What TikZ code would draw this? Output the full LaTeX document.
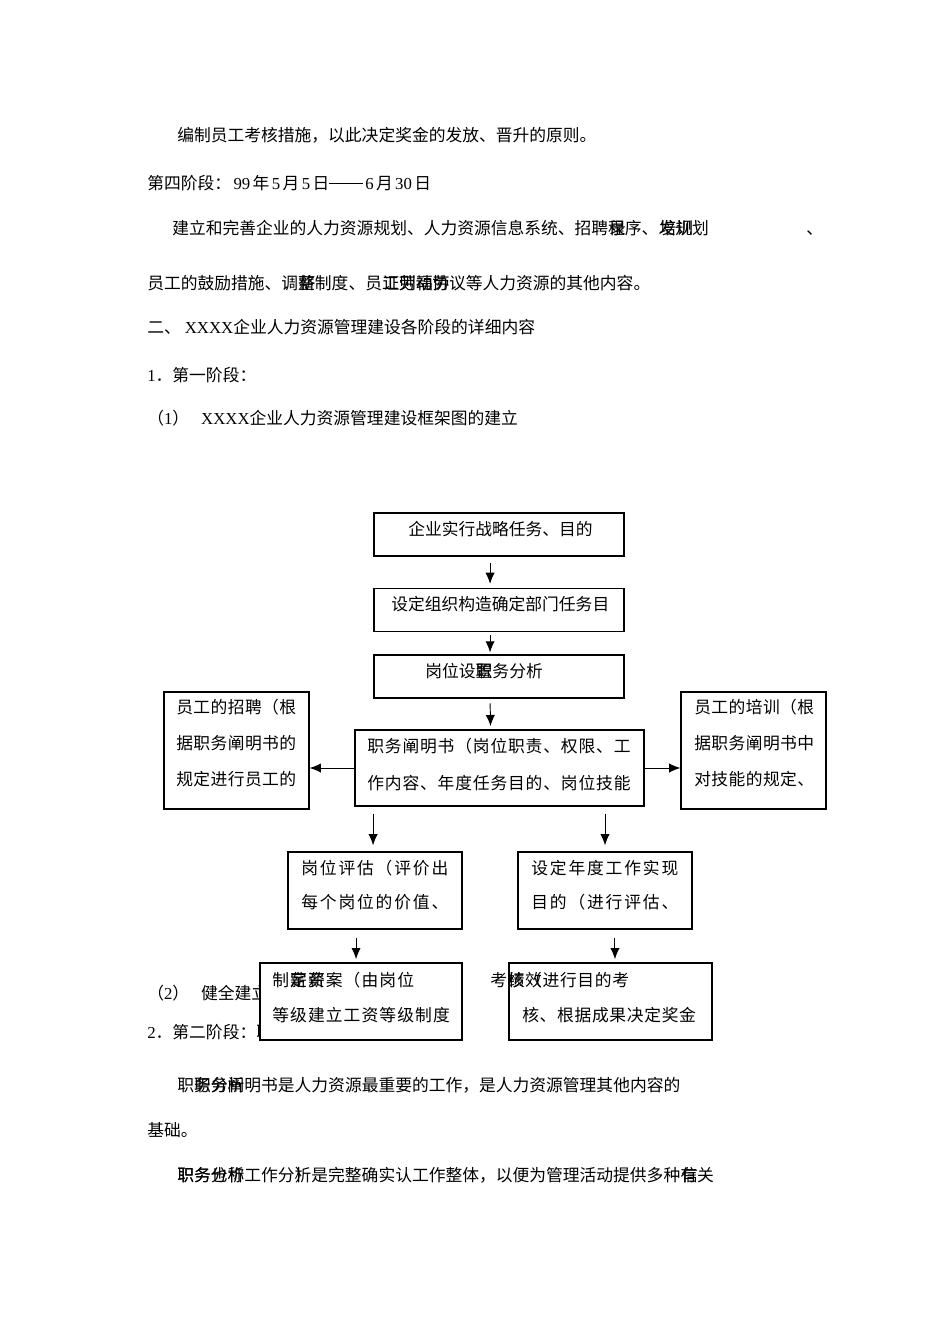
\documentclass[tikz,border=0pt]{standalone}
\usepackage{fontspec}
\setmainfont{Liberation Serif}[Scale=1.05]
\newfontfamily\cjk{Noto Sans CJK SC}[Scale=1.05]
\usetikzlibrary{arrows.meta}
\newcommand{\lt}[1]{\hspace{1.5pt}{\rmfamily #1}\hspace{1.5pt}}

\begin{document}
\begin{tikzpicture}[x=0.6263pt, y=-0.6263pt,
    txt/.style={anchor=base west, inner sep=0pt, font=\cjk},
    boxtxt/.style={anchor=base west, inner sep=0pt, font=\cjk\addfontfeature{LetterSpace=#1}},
    box/.style={draw, line width=0.8pt, fill=white, inner sep=0pt},
    arr/.style={-{Latex[length=7pt,width=5.8pt]}, line width=0.6pt}
  ]
    \useasboundingbox (0,0) rectangle (950,1344);

    % Text oben
    \node[txt] (p1) at (177,141) {编制员工考核措施，以此决定奖金的发放、晋升的原则。};
    \node[txt] (p2) at (147,189) {第四阶段：\lt{99}年\lt{5}月\lt{5}日\rule[0.34em]{2em}{0.45pt}\lt{6}月\lt{30}日};
    \node[txt] (p3) at (172,234) {建立和完善企业的人力资源规划、人力资源信息系统、招聘程序、发规划};
    \node[txt] (p3a) at (608.8,234) {录};
    \node[txt] (p3b) at (659.2,234) {培训};
    \node[txt] (p3c) at (806,234) {、};
    \node[txt] (p4) at (147,289) {员工的鼓励措施、调整制度、员工劳动协议等人力资源的其他内容。};
    \node[txt] (p4a) at (298.2,289) {薪};
    \node[txt] (p4b) at (382.2,289) {证则福劳};
    \node[txt] (p5) at (147,333) {二、\hspace{2.5pt}{\rmfamily XXXX}企业人力资源管理建设各阶段的详细内容};
    \node[txt] (p6) at (147,381) {{\rmfamily 1}．第一阶段：};
    \node[txt] (p7) at (147,424.5) {（{\rmfamily 1}）\hspace{7.5pt}{\rmfamily XXXX}企业人力资源管理建设框架图的建立};
    \node[txt] (p8) at (147,999) {（{\rmfamily 2}）\hspace{7.5pt}健全建立};
    \node[txt] (p9) at (147,1038.5) {{\rmfamily 2}．第二阶段：职务分析及阐明书};

    % Kaesten
    \node[box, minimum width=156.6pt, minimum height=26.9pt] (b1) at (499,534.5) {};
    \node[box, minimum width=156.6pt, minimum height=26.9pt] (b2) at (499,610) {};
    \node[box, minimum width=156.6pt, minimum height=26.9pt] (b3) at (499,676.5) {};
    \node[box, minimum width=181pt, minimum height=47.6pt] (b4) at (499.5,768) {};
    \node[box, minimum width=90.8pt, minimum height=73.3pt] (zp) at (236.5,750.5) {};
    \node[box, minimum width=90.8pt, minimum height=73.3pt] (px) at (753.5,750.5) {};
    \node[box, minimum width=109pt, minimum height=48.2pt] (b5) at (375,890.5) {};
    \node[box, minimum width=109pt, minimum height=48.2pt] (b6) at (605,890.5) {};
    \node[box, minimum width=126.5pt, minimum height=48.2pt] (b7) at (361,1001.5) {};
    \node[box, minimum width=127.1pt, minimum height=48.2pt] (b8) at (610.5,1001.5) {};

    % Beschriftung
    \node[txt] (t1) at (408,535) {企业实行战略任务、目的};
    \node[txt] (t2) at (391,610.5) {设定组织构造确定部门任务目};
    \node[txt] (t3) at (425,677.5) {岗位设置};
    \node[txt] (t3a) at (475.4,677.5) {职务分析};
    \node[boxtxt=5] (t4) at (367,752) {职务阐明书（岗位职责、权限、工};
    \node[boxtxt=5] (t4a) at (367,789) {作内容、年度任务目的、岗位技能};
    \node[boxtxt=2.5] (zp1) at (176,713) {员工的招聘（根};
    \node[boxtxt=2.5] (zp2) at (176,749) {据职务阐明书的};
    \node[boxtxt=2.5] (zp3) at (176,785) {规定进行员工的};
    \node[boxtxt=2.5] (px1) at (694,713) {员工的培训（根};
    \node[boxtxt=2.5] (px2) at (694,749) {据职务阐明书中};
    \node[boxtxt=2.5] (px3) at (694,785) {对技能的规定、};
    \node[boxtxt=11] (t5) at (301,874) {岗位评估（评价出};
    \node[boxtxt=11] (t5a) at (301,908) {每个岗位的价值、};
    \node[boxtxt=11] (t6) at (531,874) {设定年度工作实现};
    \node[boxtxt=11] (t6a) at (531,908) {目的（进行评估、};
    \node[boxtxt=6.5] (t7) at (272,986) {制定薪案（由岗位};
    \node[boxtxt=6.5] (t7a) at (289.9,986) {薪资};
    \node[boxtxt=6.5] (t7b) at (272,1021) {等级建立工资等级制度};
    \node[boxtxt=4] (t8) at (490,986) {考核（进行目的考};
    \node[boxtxt=4] (t8a) at (507.5,986) {绩效};
    \node[boxtxt=4] (t8b) at (522,1021) {核、根据成果决定奖金};

    % Pfeile
    \draw[arr, shorten <=3.8pt, shorten >=2.5pt] ([xshift=-5.6pt]b1.south) -- ([xshift=-5.6pt]b2.north);
    \draw[arr, shorten <=2pt, shorten >=1.2pt] ([xshift=-5.6pt]b2.south) -- ([xshift=-5.6pt]b3.north);
    \draw[arr, shorten <=3pt, shorten >=2pt] ([xshift=-5.6pt]b3.south) -- ([xshift=-5.6pt]b4.north);
    \draw[arr] (b4.west) -- (zp.east |- b4.west);
    \draw[arr] (b4.east) -- (px.west |- b4.east);
    \draw[arr, shorten <=4.4pt, shorten >=3.8pt] ([xshift=-1.2pt]b5.north |- b4.south) -- ([xshift=-1.2pt]b5.north);
    \draw[arr, shorten <=4.4pt, shorten >=3.8pt] (b6.north |- b4.south) -- (b6.north);
    \draw[arr, shorten <=5pt, shorten >=2pt] ([xshift=-3.1pt]b7.north |- b5.south) -- ([xshift=-3.1pt]b7.north);
    \draw[arr, shorten <=5pt, shorten >=2pt] ([xshift=2.8pt]b8.north |- b6.south) -- ([xshift=2.8pt]b8.north);

    % Text unten
    \node[txt] (p10) at (177,1091) {职务分析};
    \node[txt] (p10a) at (193.8,1091) {职务阐明书是人力资源最重要的工作，是人力资源管理其他内容的};
    \node[txt] (p11) at (147,1136) {基础。};
    \node[txt] (p12) at (177,1181) {职务分析};
    \node[txt] (p12a) at (177,1181) {职务也称工作分析是完整确实认工作整体，以便为管理活动提供多种有关};
    \node[txt] (p12b) at (294.6,1181) {）};
    \node[txt] (p12c) at (681,1181) {信};
\end{tikzpicture}
\end{document}
